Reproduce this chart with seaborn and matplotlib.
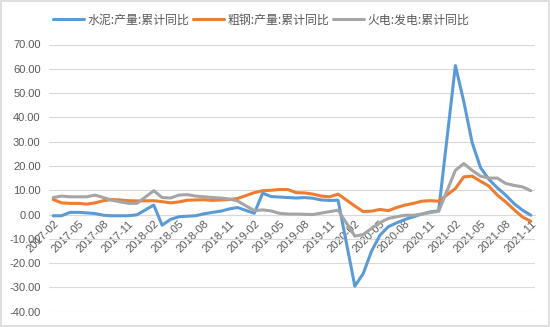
import numpy as np
import pandas as pd
import matplotlib
matplotlib.use("Agg")
import matplotlib.pyplot as plt
import seaborn as sns
from matplotlib.patches import Rectangle

# ---------------- data ----------------
months = []
for y in range(2017, 2022):
    for m in range(1, 13):
        if (y == 2017 and m < 2) or (y == 2021 and m > 11):
            continue
        months.append(f"{y}-{m:02d}")

N = None
cement = [-0.5, -0.5, 0.9, 0.9, 0.7, 0.4, -0.3, -0.5, -0.5, -0.5, -0.1,
          N, 3.9, -4.4, -2.0, -0.9, -0.7, -0.5, 0.3, 0.9, 1.4, 2.3, 2.9,
          N, 0.5, 8.8, 7.4, 7.2, 7.0, 6.8, 7.0, 6.7, 6.0, 5.8, 5.9,
          N, -29.5, -24.3, -15.0, -8.5, -5.0, -3.4, -2.0, -0.9, 0.2, 1.1, 1.5,
          N, 61.3, 46.5, 29.6, 19.3, 14.5, 11.0, 8.0, 4.5, 1.8, -0.3]
steel = [6.2, 4.8, 4.6, 4.6, 4.3, 4.8, 5.7, 6.2, 6.0, 5.7, 5.6,
         N, 5.7, 5.3, 4.8, 5.2, 5.9, 6.0, 6.1, 5.8, 6.0, 6.2, 6.6,
         N, 9.0, 9.8, 10.0, 10.3, 10.3, 9.0, 8.9, 8.4, 7.6, 7.3, 8.4,
         N, 3.5, 1.2, 1.4, 2.1, 1.6, 2.9, 3.9, 4.6, 5.5, 5.7, 5.5,
         N, 10.7, 15.5, 15.8, 13.7, 11.7, 8.0, 5.2, 2.0, -1.0, -2.8]
thermal = [7.0, 7.6, 7.3, 7.3, 7.3, 8.0, 7.0, 5.9, 5.2, 4.6, 4.6,
           N, 9.8, 7.0, 6.8, 8.0, 8.2, 7.6, 7.3, 7.0, 6.8, 6.4, 5.6,
           N, 1.6, 1.9, 1.5, 0.5, 0.2, 0.2, 0.1, 0.0, 0.6, 1.2, 1.8,
           N, -8.9, -8.2, -5.7, -3.3, -1.6, -0.9, -0.3, -0.3, 0.2, 0.8, 1.3,
           N, 18.2, 21.0, 18.2, 15.8, 15.0, 15.0, 12.8, 12.0, 11.4, 9.8]

series_names = ["水泥:产量:累计同比", "粗钢:产量:累计同比", "火电:发电:累计同比"]
colors = ["#5B9BD5", "#ED7D31", "#A5A5A5"]
y_ticks = [-40, -30, -20, -10, 0, 10, 20, 30, 40, 50, 60, 70]

# ---------------- frame ----------------
rows = []
for name, vals in zip(series_names, [cement, steel, thermal]):
    for i, (mo, v) in enumerate(zip(months, vals)):
        rows.append({"idx": i, "month": mo, "series": name, "value": v})
df = pd.DataFrame(rows).dropna(subset=["value"])
df["value"] = df["value"].astype(float)

# ---------------- plot ----------------
sns.set_theme(style="white")
plt.rcParams["font.family"] = ["Noto Sans CJK SC", "DejaVu Sans"]

fig = plt.figure(figsize=(5.5, 3.27), dpi=100)
ax = fig.add_axes([49 / 550, 1 - 311.7 / 327, (535 - 49) / 550, (311.7 - 44.5) / 327])

sns.lineplot(data=df, x="idx", y="value", hue="series", hue_order=series_names,
             palette=colors, linewidth=2.2, ax=ax, sort=True, legend=True)

ax.set_xlim(-0.5, len(months) - 0.5)
ax.set_ylim(-40, 70)
ax.set_yticks(y_ticks)
ax.set_yticklabels([f"{v:.2f}" for v in y_ticks], fontsize=8, color="#595959",
                   family=["Liberation Sans", "DejaVu Sans"])
ax.tick_params(axis="y", length=0, pad=6)
ax.grid(axis="y", color="#D9D9D9", linewidth=0.8)
ax.grid(axis="x", visible=False)
ax.set_axisbelow(True)

# x axis at zero
for s in ["left", "right", "top"]:
    ax.spines[s].set_visible(False)
ax.spines["bottom"].set_position(("data", 0))
ax.spines["bottom"].set_color("#D9D9D9")
ax.spines["bottom"].set_linewidth(0.8)
ax.spines["bottom"].set_zorder(1)

centers = list(range(0, len(months), 3))
ax.set_xticks(centers)
ax.set_xticklabels([months[i] for i in centers], rotation=45, ha="right",
                   rotation_mode="anchor", fontsize=8, color="#595959",
                   family=["Liberation Sans", "DejaVu Sans"])
ax.tick_params(axis="x", length=0, pad=3)
ax.set_xticks([i - 0.5 for i in range(0, len(months) + 1, 3)], minor=True)
ax.tick_params(axis="x", which="minor", length=4, width=0.8, color="#D9D9D9", direction="out")
ax.set_xlabel("")
ax.set_ylabel("")

# legend
handles, labels = ax.get_legend_handles_labels()
ax.legend_.remove()
fig.legend(handles, labels, loc="center", bbox_to_anchor=(0.475, 1 - 20 / 327),
           ncol=3, frameon=False, fontsize=8.6, handlelength=2.6, handletextpad=0.3,
           columnspacing=0.3, labelcolor="#595959")

fig.patches.append(Rectangle((0.001, 0.002), 0.997, 0.996, transform=fig.transFigure,
                             fill=False, edgecolor="#D9D9D9", linewidth=1.2))

fig.savefig("out.png", dpi=100, facecolor="white")
